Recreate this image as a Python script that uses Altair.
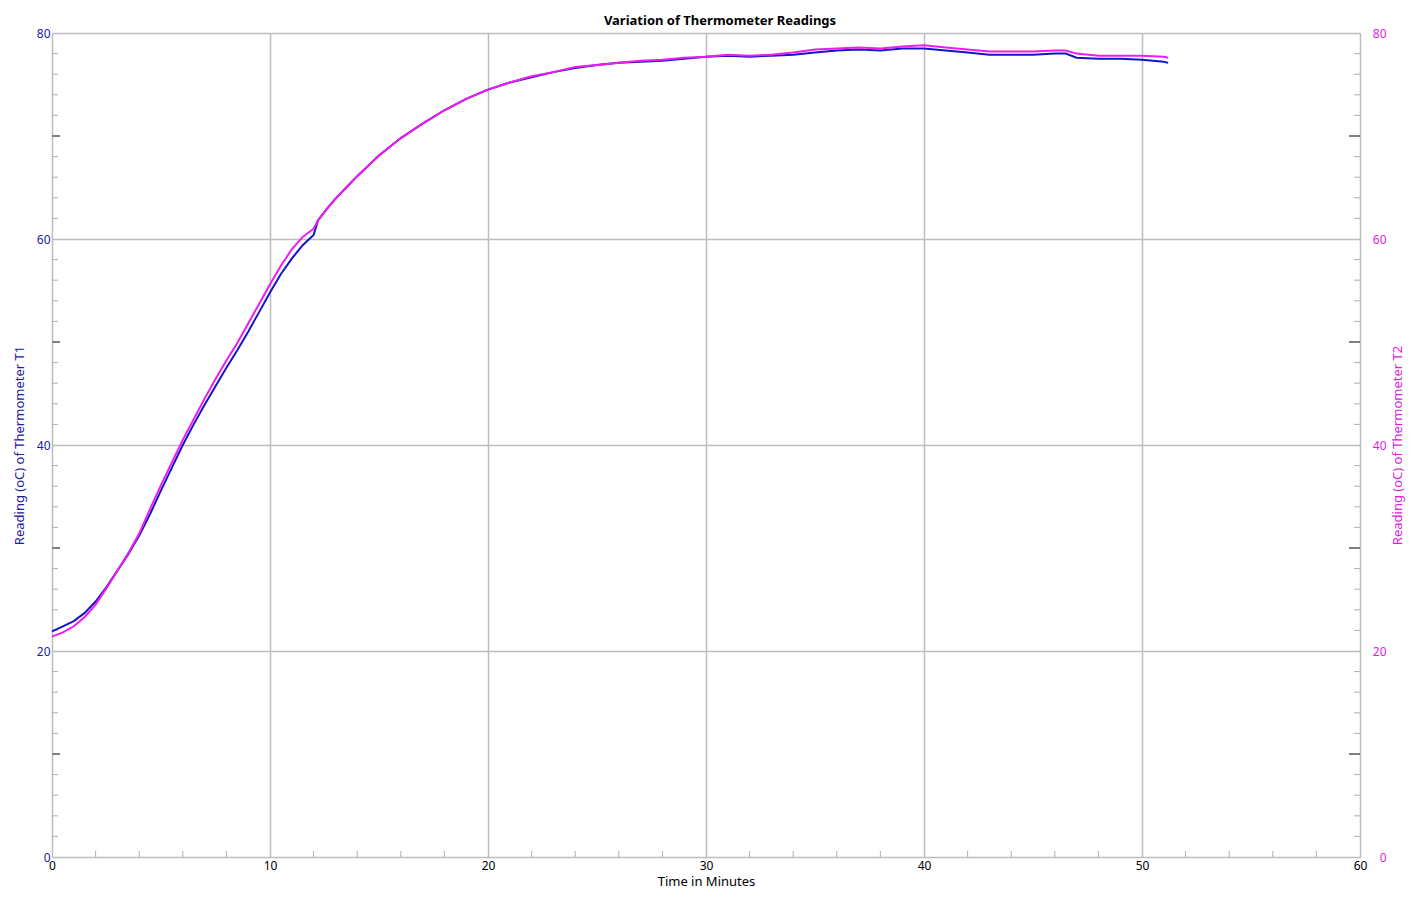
import altair as alt
import pandas as pd

# ---- data ----
time_min = [0, 0.5, 1, 1.5, 2, 2.5, 3, 3.5, 4, 4.5, 5, 5.5, 6, 6.5, 7, 7.5, 8, 8.5, 9, 9.5,
            10, 10.5, 11, 11.5, 12, 12.2, 12.6, 13, 13.5, 14, 14.5, 15, 16, 17, 18, 19,
            20, 21, 22, 23, 24, 25, 26, 27, 28, 29, 30, 31, 32, 33, 34, 35, 36, 37, 38, 39,
            40, 41, 42, 43, 44, 45, 46, 46.5, 47, 48, 49, 50, 51, 51.2]
t1_values = [21.9, 22.4, 22.9, 23.7, 24.8, 26.2, 27.8, 29.4, 31.2, 33.3, 35.6, 37.8, 40.0, 42.0, 43.9, 45.7, 47.5, 49.2, 51.0, 52.9,
             54.8, 56.6, 58.1, 59.4, 60.4, 61.8, 62.9, 63.9, 65.0, 66.1, 67.1, 68.1, 69.8, 71.2, 72.5, 73.6,
             74.5, 75.2, 75.7, 76.2, 76.6, 76.9, 77.1, 77.2, 77.3, 77.5, 77.7, 77.8, 77.7, 77.8, 77.9, 78.1, 78.3, 78.4, 78.3, 78.5,
             78.5, 78.3, 78.1, 77.9, 77.9, 77.9, 78.0, 78.0, 77.6, 77.5, 77.5, 77.4, 77.2, 77.1]
t2_values = [21.4, 21.8, 22.4, 23.3, 24.5, 26.1, 27.8, 29.5, 31.4, 33.8, 36.1, 38.3, 40.5, 42.5, 44.5, 46.4, 48.2, 49.9, 51.8, 53.7,
             55.6, 57.4, 59.0, 60.2, 61.0, 61.8, 62.9, 63.9, 65.0, 66.1, 67.1, 68.1, 69.8, 71.2, 72.5, 73.6,
             74.5, 75.2, 75.8, 76.2, 76.7, 76.9, 77.1, 77.3, 77.4, 77.6, 77.7, 77.9, 77.8, 77.9, 78.1, 78.4, 78.5, 78.6, 78.5, 78.7,
             78.8, 78.6, 78.4, 78.2, 78.2, 78.2, 78.3, 78.3, 78.0, 77.8, 77.8, 77.8, 77.7, 77.6]

x_major = [0, 10, 20, 30, 40, 50, 60]
y_major = [0, 20, 40, 60, 80]
x_minor = [v for v in range(2, 60, 2) if v % 10 != 0]
y_minor = [v for v in range(2, 80, 2) if v % 10 != 0]
y_mid = [10, 30, 50, 70]

FONT = "Noto Sans"
BLUE_LINE = "#1414c8"
MAG_LINE = "#ee1cee"
BLUE_TXT = "#2020a0"
MAG_TXT = "#dd22dd"
W, H = 1308, 824

df = pd.DataFrame({"time": time_min, "T1": t1_values, "T2": t2_values})

xscale = alt.Scale(domain=[0, 60], nice=False, zero=False)
yscale = alt.Scale(domain=[0, 80], nice=False, zero=False)

xaxis = alt.Axis(values=x_major, format="d", title="Time in Minutes", grid=True, orient="bottom",
                 gridColor="#bdbdbd", gridWidth=1.5, ticks=False, tickSize=0, domain=False,
                 labelPadding=3, labelFlush=False, labelColor="black", labelFont=FONT,
                 labelFontSize=12, titleFont=FONT, titleFontSize=13, titleFontWeight="normal",
                 titleColor="black", titlePadding=4)

line1 = alt.Chart(df).mark_line(color=BLUE_LINE, strokeWidth=2).encode(
    x=alt.X("time:Q", scale=xscale, axis=xaxis),
    y=alt.Y("T1:Q", scale=yscale, axis=alt.Axis(
        orient="left", values=y_major, format="d", grid=True, gridColor="#bdbdbd", gridWidth=1.5,
        ticks=False, tickSize=0, domain=False, labelPadding=2, labelColor=BLUE_TXT,
        labelFont=FONT, labelFontSize=12, title="Reading (oC) of Thermometer T1",
        titleColor=BLUE_TXT, titleFont=FONT, titleFontSize=13, titleFontWeight="normal",
        titlePadding=10)),
)

line2 = alt.Chart(df).mark_line(color=MAG_LINE, strokeWidth=2).encode(
    x=alt.X("time:Q", scale=xscale, axis=xaxis),
    y=alt.Y("T2:Q", scale=yscale, axis=alt.Axis(
        orient="right", values=y_major, format="d", grid=False,
        ticks=False, tickSize=0, domain=False, labelPadding=26, labelAlign="right",
        labelColor=MAG_TXT, labelFont=FONT, labelFontSize=12,
        title="Reading (oC) of Thermometer T2", titleAngle=270, titleBaseline="top",
        titleColor=MAG_TXT, titleFont=FONT, titleFontSize=13, titleFontWeight="normal",
        titlePadding=5)),
)

ymin_df = pd.DataFrame({"v": y_minor})
ymid_df = pd.DataFrame({"v": y_mid})
xmin_df = pd.DataFrame({"v": x_minor})

left_minor = alt.Chart(ymin_df).mark_rule(color="#b0b0b0", strokeWidth=1).encode(
    y=alt.Y("v:Q", scale=yscale, axis=None), x=alt.value(0), x2=alt.value(6))
left_mid = alt.Chart(ymid_df).mark_rule(color="#808080", strokeWidth=2).encode(
    y=alt.Y("v:Q", scale=yscale, axis=None), x=alt.value(0), x2=alt.value(8))
right_minor = alt.Chart(ymin_df).mark_rule(color="#b0b0b0", strokeWidth=1).encode(
    y=alt.Y("v:Q", scale=yscale, axis=None), x=alt.value(W), x2=alt.value(W - 6))
right_mid = alt.Chart(ymid_df).mark_rule(color="#808080", strokeWidth=2).encode(
    y=alt.Y("v:Q", scale=yscale, axis=None), x=alt.value(W), x2=alt.value(W - 11))
bottom_minor = alt.Chart(xmin_df).mark_rule(color="#b0b0b0", strokeWidth=1).encode(
    x=alt.X("v:Q", scale=xscale, axis=xaxis), y=alt.value(H), y2=alt.value(H - 6))

chart = alt.layer(
    bottom_minor, left_minor, left_mid, right_minor, right_mid, line1, line2
).resolve_scale(y="independent", x="shared").resolve_axis(x="shared").properties(
    width=W, height=H,
    autosize=alt.AutoSizeParams(type="none"),
    padding={"left": 44, "top": 25, "right": 52, "bottom": 40},
    title=alt.TitleParams("Variation of Thermometer Readings", font=FONT, fontSize=13,
                          fontWeight="bold", color="black", anchor="middle", offset=-1, dx=14),
).configure_view(stroke="#8a8a8a", strokeWidth=2.5).configure(background="white")

chart.save("out.html", embed_options={"renderer": "svg", "actions": False})
